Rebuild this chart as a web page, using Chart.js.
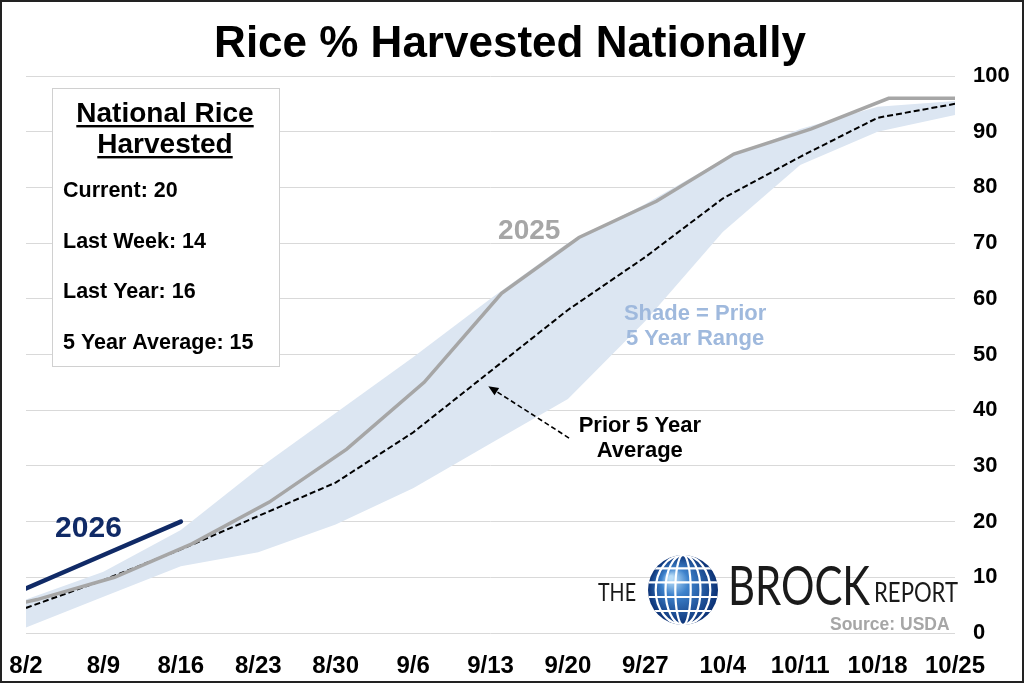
<!DOCTYPE html>
<html lang="en">
<head>
    <meta charset="UTF-8">
    <title>Rice % Harvested Nationally</title>
    <script src="https://cdn.jsdelivr.net/npm/chart.js"></script>
    <style>
        body { margin: 0; background: #fff; }
    </style>
</head>
<body>
    <canvas id="riceChart" width="1024" height="683"></canvas>
    <script>
        // week-ending dates on the axis (2026 calendar)
        const tickLabels = ['8/2', '8/9', '8/16', '8/23', '8/30', '9/6', '9/13', '9/20', '9/27', '10/4', '10/11', '10/18', '10/25'];

        // prior 5 year average and range, same weeks as the axis
        const avgValues = [4.5, 9.5, 15, 21, 27, 36, 47, 58, 67.5, 78, 85.5, 92.5, 95];
        const rangeHigh = [6, 11, 18.5, 29.5, 39.5, 49.5, 60, 70, 77, 85, 90.5, 94.5, 95.5];
        const rangeLow = [1, 6.5, 12, 14.5, 19.5, 26, 34, 42, 56, 72, 84, 90, 93];

        // 2026 so far
        const currentDates = ['8/2', '8/9', '8/16'];
        const currentValues = [8, 14, 20];

        // 2025 (its weeks end one day later on the calendar)
        const lastYearDates = ['7/27', '8/3', '8/10', '8/17', '8/24', '8/31', '9/7', '9/14', '9/21', '9/28', '10/5', '10/12', '10/19', '10/26'];
        const lastYearValues = [3, 6, 10, 16, 23.5, 33, 45, 61, 71, 77.5, 86, 90.5, 96, 96];

        const boxLines = ['Current: 20', 'Last Week: 14', 'Last Year: 16', '5 Year Average: 15'];

        function dayOf(md) {
            const [m, d] = md.split('/').map(Number);
            return (Date.UTC(2026, m - 1, d) - Date.UTC(2026, 7, 2)) / 86400000;
        }
        const toPoints = (dates, vals) => vals.map((v, i) => ({ x: dayOf(dates[i]), y: v }));

        const FONT = '"Liberation Sans", Arial, sans-serif';
        const NAVY = '#102a66';
        const GRAY = '#a6a6a6';

        function fitText(ctx, text, x, y, w) {
            const m = ctx.measureText(text).width;
            ctx.save();
            ctx.translate(x, y);
            ctx.scale(w / m, 1);
            ctx.fillText(text, 0, 0);
            ctx.restore();
        }

        function drawGlobe(ctx, cx, cy, r) {
            ctx.save();
            const g = ctx.createRadialGradient(cx - r * 0.35, cy - r * 0.35, 2, cx, cy, r);
            g.addColorStop(0, '#b8ddf7');
            g.addColorStop(0.35, '#3d82cc');
            g.addColorStop(1, '#0c3276');
            ctx.beginPath();
            ctx.arc(cx, cy, r, 0, Math.PI * 2);
            ctx.fillStyle = g;
            ctx.fill();
            ctx.clip();
            ctx.strokeStyle = '#fff';
            ctx.lineWidth = 2.2;
            [0.22, 0.5, 0.78].forEach(k => {
                ctx.beginPath();
                ctx.ellipse(cx, cy, r * k, r, 0, 0, Math.PI * 2);
                ctx.stroke();
            });
            [-0.62, -0.22, 0.2, 0.6].forEach(k => {
                ctx.beginPath();
                ctx.moveTo(cx - r, cy + r * k);
                ctx.lineTo(cx + r, cy + r * k);
                ctx.stroke();
            });
            ctx.restore();
        }

        const decor = {
            id: 'decor',
            beforeDraw(chart) {
                const ctx = chart.ctx;
                ctx.save();
                ctx.fillStyle = '#fff';
                ctx.fillRect(0, 0, chart.width, chart.height);
                ctx.restore();
            },
            afterDraw(chart) {
                const ctx = chart.ctx;
                const xs = chart.scales.x, ys = chart.scales.y;
                const px = (d, v) => [xs.getPixelForValue(d), ys.getPixelForValue(v)];
                ctx.save();

                // title
                ctx.fillStyle = '#000';
                ctx.textAlign = 'center';
                ctx.textBaseline = 'alphabetic';
                ctx.font = 'bold 44px ' + FONT;
                ctx.fillText('Rice % Harvested Nationally', 510, 57);

                // summary box
                ctx.fillStyle = '#fff';
                ctx.fillRect(52, 88, 227, 278);
                ctx.strokeStyle = '#d0d0d0';
                ctx.lineWidth = 1;
                ctx.strokeRect(52.5, 88.5, 227, 278);
                ctx.fillStyle = '#000';
                ctx.font = 'bold 28px ' + FONT;
                [['National Rice', 122], ['Harvested', 153]].forEach(([t, y]) => {
                    ctx.fillText(t, 165, y);
                    const w = ctx.measureText(t).width;
                    ctx.fillRect(165 - w / 2, y + 3, w, 2.4);
                });
                ctx.textAlign = 'left';
                ctx.font = 'bold 21.5px ' + FONT;
                boxLines.forEach((t, i) => ctx.fillText(t, 63, 197 + i * 50.7));

                // series labels
                ctx.textAlign = 'center';
                ctx.font = 'bold 28px ' + FONT;
                ctx.fillStyle = GRAY;
                let p = px(45.5, 70.7);
                ctx.fillText('2025', p[0], p[1]);
                ctx.font = 'bold 30px ' + FONT;
                ctx.fillStyle = NAVY;
                p = px(5.65, 17.2);
                ctx.fillText('2026', p[0], p[1]);

                // notes
                ctx.font = 'bold 22px ' + FONT;
                ctx.fillStyle = '#9fb9dd';
                p = px(60.5, 56.2);
                ctx.fillText('Shade = Prior', p[0], p[1]);
                ctx.fillText('5 Year Range', p[0], p[1] + 25);
                ctx.fillStyle = '#000';
                p = px(55.5, 36.1);
                ctx.fillText('Prior 5 Year', p[0], p[1]);
                ctx.fillText('Average', p[0], p[1] + 25);

                // arrow to the average line
                const tail = px(49.1, 35);
                const tip = px(41.8, 44.3);
                ctx.strokeStyle = '#000';
                ctx.lineWidth = 1.6;
                ctx.setLineDash([5, 3]);
                ctx.beginPath();
                ctx.moveTo(tail[0], tail[1]);
                ctx.lineTo(tip[0], tip[1]);
                ctx.stroke();
                ctx.setLineDash([]);
                const ang = Math.atan2(tip[1] - tail[1], tip[0] - tail[0]);
                ctx.beginPath();
                ctx.moveTo(tip[0], tip[1]);
                ctx.lineTo(tip[0] - 11 * Math.cos(ang - 0.4), tip[1] - 11 * Math.sin(ang - 0.4));
                ctx.lineTo(tip[0] - 11 * Math.cos(ang + 0.4), tip[1] - 11 * Math.sin(ang + 0.4));
                ctx.closePath();
                ctx.fillStyle = '#000';
                ctx.fill();

                // logo
                ctx.textAlign = 'left';
                ctx.fillStyle = '#1a1a1a';
                ctx.font = '25px Lato, ' + FONT;
                fitText(ctx, 'THE', 598, 601, 38);
                ctx.font = '54px Lato, ' + FONT;
                fitText(ctx, 'BROCK', 728, 605, 142);
                ctx.font = '26px Lato, ' + FONT;
                fitText(ctx, 'REPORT', 874, 602, 84);
                drawGlobe(ctx, 683, 590, 35);
                ctx.fillStyle = GRAY;
                ctx.font = 'bold 17.5px ' + FONT;
                ctx.fillText('Source: USDA', 830, 630);

                // frame
                ctx.strokeStyle = '#222';
                ctx.lineWidth = 2;
                ctx.strokeRect(1, 1, chart.width - 2, chart.height - 2);
                ctx.restore();
            }
        };

        const ctx = document.getElementById('riceChart').getContext('2d');
        const riceChart = new Chart(ctx, {
            type: 'line',
            data: {
                datasets: [
                    {
                        label: '2026',
                        data: toPoints(currentDates, currentValues),
                        borderColor: NAVY,
                        borderWidth: 4.5,
                        borderCapStyle: 'round',
                        pointRadius: 0,
                        fill: false
                    },
                    {
                        label: '2025',
                        data: toPoints(lastYearDates, lastYearValues),
                        borderColor: GRAY,
                        borderWidth: 3.5,
                        pointRadius: 0,
                        clip: 0,
                        fill: false
                    },
                    {
                        label: 'Prior 5 Year Average',
                        data: avgValues.map((v, i) => ({ x: i * 7, y: v })),
                        borderColor: '#000',
                        borderWidth: 2,
                        borderDash: [6, 3],
                        pointRadius: 0,
                        fill: false
                    },
                    {
                        label: 'Range high',
                        data: rangeHigh.map((v, i) => ({ x: i * 7, y: v })),
                        borderColor: 'rgba(0,0,0,0)',
                        borderWidth: 0,
                        backgroundColor: '#dce6f2',
                        pointRadius: 0,
                        fill: '+1'
                    },
                    {
                        label: 'Range low',
                        data: rangeLow.map((v, i) => ({ x: i * 7, y: v })),
                        borderColor: 'rgba(0,0,0,0)',
                        borderWidth: 0,
                        pointRadius: 0,
                        fill: false
                    }
                ]
            },
            options: {
                responsive: false,
                animation: false,
                devicePixelRatio: 1,
                layout: { padding: { left: 26, top: 76, right: 0, bottom: 0 } },
                plugins: {
                    legend: { display: false },
                    tooltip: { enabled: false }
                },
                scales: {
                    x: {
                        type: 'linear',
                        min: 0,
                        max: 84,
                        grid: { display: false },
                        border: { display: false },
                        afterFit: s => { s.height = 50; s.paddingLeft = 0; s.paddingRight = 0; },
                        ticks: {
                            stepSize: 7,
                            autoSkip: false,
                            maxRotation: 0,
                            padding: 11,
                            color: '#000',
                            font: { family: FONT, size: 24, weight: 'bold' },
                            callback: v => tickLabels[v / 7]
                        }
                    },
                    y: {
                        position: 'right',
                        min: 0,
                        max: 100,
                        grid: { color: '#d9d9d9', lineWidth: 1, drawTicks: false },
                        border: { display: false },
                        afterFit: s => { s.width = 69; s.paddingTop = 0; s.paddingBottom = 0; },
                        ticks: {
                            stepSize: 10,
                            padding: 18,
                            color: '#000',
                            font: { family: FONT, size: 22, weight: 'bold' }
                        }
                    }
                }
            },
            plugins: [decor]
        });
    </script>
</body>
</html>
